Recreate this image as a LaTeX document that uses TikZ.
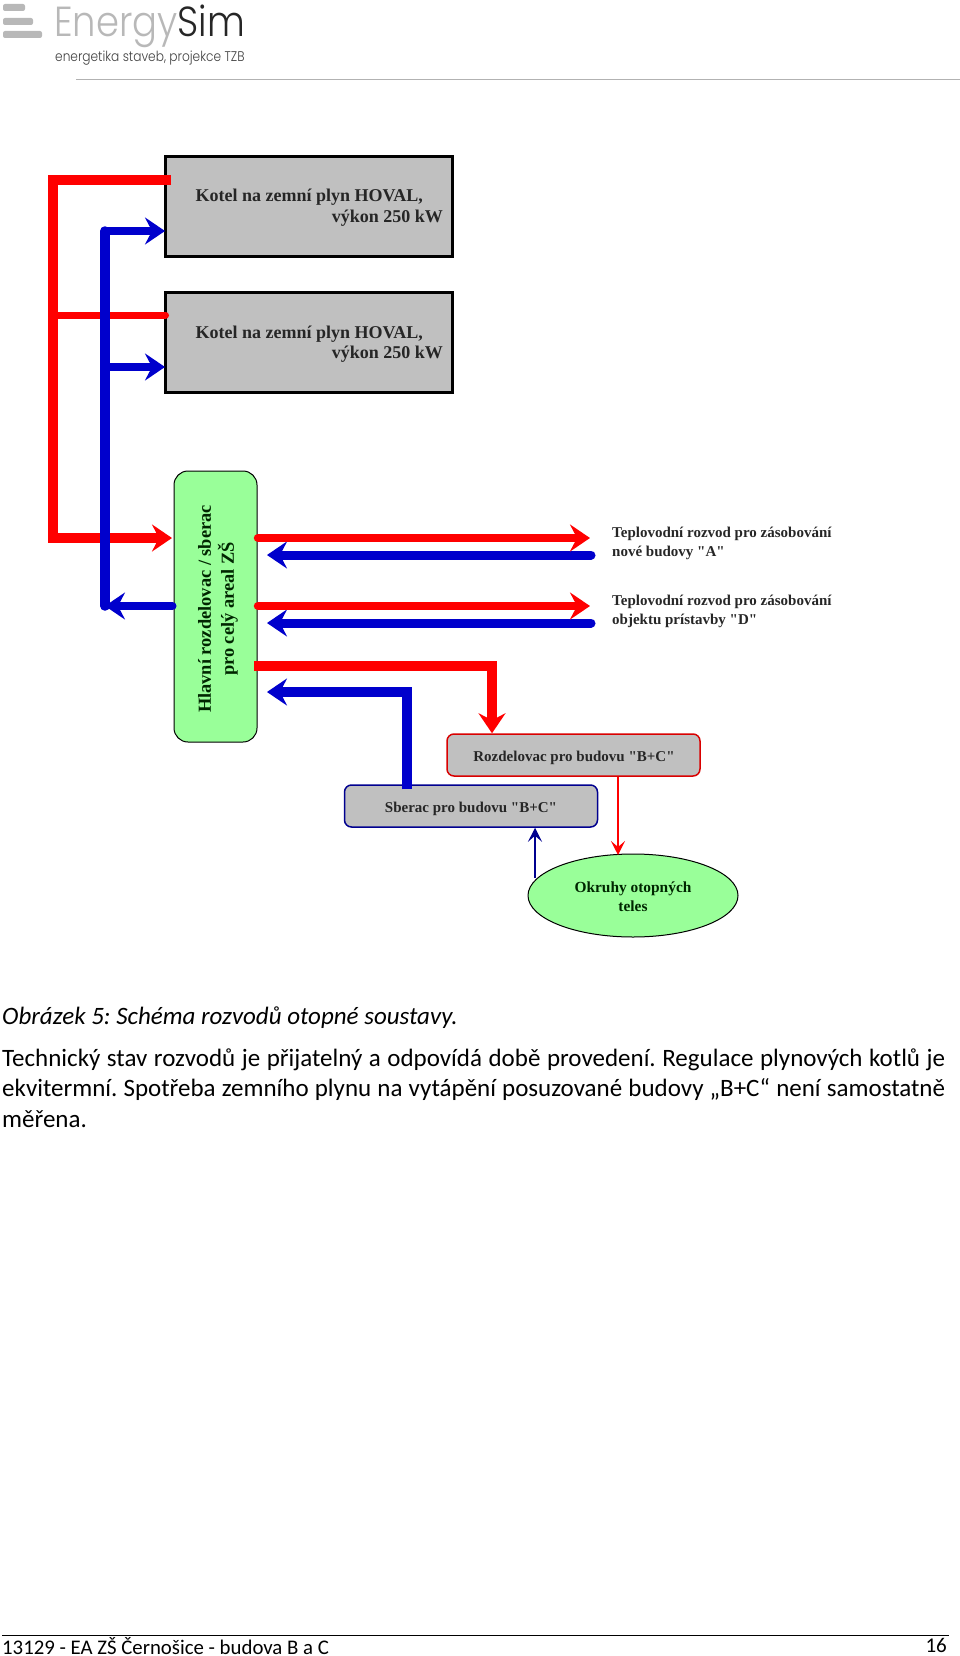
\documentclass[tikz,border=0pt]{standalone}
\usepackage{fontspec}
\setmainfont{Carlito}
\newfontfamily\boxfont{Liberation Serif}
\newfontfamily\logofont{Poppins Light}
\usetikzlibrary{arrows.meta, shapes.geometric, positioning}
\definecolor{pipeRed}{HTML}{FF0000}
\definecolor{pipeBlue}{HTML}{0000CC}
\definecolor{boxGrey}{HTML}{C0C0C0}
\definecolor{boxGreen}{HTML}{99FF99}
\definecolor{logoGrey}{HTML}{B8B8B8}
\tikzset{
    boilerBox/.style={draw=black, line width=2.5pt, fill=boxGrey, inner sep=0pt, minimum width=287pt, minimum height=100pt},
    mainBox/.style={draw=black, line width=1pt, fill=boxGreen, rounded corners=14pt, inner sep=0pt, minimum width=83pt, minimum height=271pt},
    subBox/.style={line width=1.5pt, fill=boxGrey, rounded corners=7pt, inner sep=0pt, minimum width=253pt, minimum height=42pt},
    loopEllipse/.style={ellipse, draw=black, line width=1pt, fill=boxGreen, inner sep=0pt, minimum width=210pt, minimum height=83pt},
    boxText/.style={inner sep=0pt, font=\boxfont\bfseries\fontsize{18}{21}\selectfont, text=black!85},
    subText/.style={inner sep=0pt, font=\boxfont\bfseries\fontsize{15}{17}\selectfont, text=black!85},
    feedText/.style={inner sep=0pt, anchor=west, align=left, font=\boxfont\bfseries\fontsize{15}{19}\selectfont, text=black!85},
    bodyText/.style={inner sep=0pt, anchor=base west, font=\fontsize{25}{30}\selectfont},
    headTip/.tip={Stealth[length=20pt, width=27pt, inset=7pt]},
    thinTip/.tip={Stealth[length=14pt, width=14pt, inset=6pt]},
    hotPipe/.style={draw=pipeRed, line width=8.5pt},
    coldPipe/.style={draw=pipeBlue, line width=9pt},
}
\newcommand{\drawBar}[3]{
    \fill[logoGrey, rounded corners=2pt] (3,#1) rectangle (#3,#2);
}
\begin{document}
\begin{tikzpicture}[x=1pt, y=-1pt]
    \frenchspacing
    \useasboundingbox (0,0) rectangle (960,1656);

    % logo
    \drawBar{4}{11}{25}
    \drawBar{18}{25}{33}
    \drawBar{31}{38}{42}
    \node[inner sep=0pt, anchor=base west, xscale=.88, font=\logofont\fontsize{42}{42}\selectfont] (logo) at (54,37) {\textcolor{logoGrey}{Energy}\textcolor{black!85}{Sim}};
    \node[inner sep=0pt, anchor=base west, xscale=.87, font=\logofont\fontsize{14}{14}\selectfont, text=black!75] (claim) at (55,62) {energetika staveb, projekce TZB};
    \coordinate (ruleA) at (76,79.5);
    \coordinate (ruleB) at (960,79.5);
    \draw[black!30, line width=1pt] (ruleA) -- (ruleB);

    % boxes
    \node[boilerBox] (boilerA) at (309,206.5) {};
    \node[boilerBox] (boilerB) at (309,342.5) {};
    \node[mainBox] (mainHub) at (215.5,606.5) {};
    \node[subBox, draw=pipeRed!85!black] (splitBC) at (573.5,755) {};
    \node[subBox, draw=pipeBlue!70!black] (collectBC) at (471,806) {};
    \node[loopEllipse] (loops) at (633,895.5) {};

    \node[boxText, anchor=east] (boilerAa) at (423,197) {Kotel na zemní plyn HOVAL,};
    \node[boxText, anchor=east] (boilerAb) at (443,218) {výkon 250 kW};
    \node[boxText, anchor=east] (boilerBa) at (423,334) {Kotel na zemní plyn HOVAL,};
    \node[boxText, anchor=east] (boilerBb) at (443,354) {výkon 250 kW};
    \node[boxText, rotate=90, align=center, font=\boxfont\bfseries\fontsize{18.4}{23}\selectfont, text=black!85!green] (mainText) at (218,609) {Hlavní rozdelovac / sberac\\pro celý areal ZŠ};
    \node[subText] (splitText) at (574,757.5) {Rozdelovac pro budovu "B+C"};
    \node[subText] (collectText) at (471,808.5) {Sberac pro budovu "B+C"};
    \node[boxText, align=center, font=\boxfont\bfseries\fontsize{15.4}{19}\selectfont, text=black!85!green] (loopText) at (633,897) {Okruhy otopných\\teles};
    \node[feedText] (feedA) at (612,543.5) {Teplovodní rozvod pro zásobování\\nové budovy "A"};
    \node[feedText] (feedD) at (612,611.5) {Teplovodní rozvod pro zásobování\\objektu prístavby "D"};

    % junction points
    \coordinate (hotA) at (171,180);
    \coordinate (hotCorner) at (53,180);
    \coordinate (hotBase) at (53,538);
    \coordinate (hotB) at (165.5,315);
    \coordinate (hotBranch) at (53,315);
    \coordinate (hotIn) at (172,538);
    \coordinate (coldTop) at (105,231);
    \coordinate (coldBase) at (105,606);
    \coordinate (coldA) at (165,231);
    \coordinate (coldBranch) at (105,367);
    \coordinate (coldB) at (165,367);
    \coordinate (coldOut) at (172.5,606);
    \coordinate (hotFeedA) at (258,538);
    \coordinate (hotEndA) at (590,538);
    \coordinate (coldFeedA) at (267,555);
    \coordinate (coldEndA) at (591,555);
    \coordinate (hotFeedD) at (258,606);
    \coordinate (hotEndD) at (590,606);
    \coordinate (coldFeedD) at (267,623);
    \coordinate (coldEndD) at (591,623);
    \coordinate (hotFeedBC) at (254,666);
    \coordinate (hotKnee) at (492,666);
    \coordinate (coldFeedBC) at (267,692);
    \coordinate (coldKnee) at (407,692);
    \coordinate (loopTop) at (618,855);
    \coordinate (loopLeft) at (535,878);

    % hot pipes
    \draw[hotPipe, line width=10.5pt, -{headTip}] (hotA) -- (hotCorner) -- (hotBase) -- (hotIn);
    \draw[hotPipe, line width=7pt, line cap=round] (hotBranch) -- (hotB);

    % cold pipes
    \draw[coldPipe, line width=9.5pt, line cap=round] (coldTop) -- (coldBase);
    \draw[coldPipe, line width=8pt, line cap=round, -{headTip}] (coldTop) -- (coldA);
    \draw[coldPipe, line width=8pt, -{headTip}] (coldBranch) -- (coldB);
    \draw[coldPipe, line width=8pt, line cap=round, -{headTip}] (coldOut) -- (coldBase);

    % feeds
    \draw[coldPipe, line cap=round, -{headTip}] (coldEndA) -- (coldFeedA);
    \draw[coldPipe, line cap=round, -{headTip}] (coldEndD) -- (coldFeedD);
    \draw[hotPipe, line cap=round, -{headTip}] (hotFeedA) -- (hotEndA);
    \draw[hotPipe, line cap=round, -{headTip}] (hotFeedD) -- (hotEndD);
    \draw[hotPipe, line width=10.7pt, -{headTip}] (hotFeedBC) -- (hotKnee) -- (splitBC.north -| hotKnee);
    \draw[coldPipe, line width=10pt, shorten <=-5pt, -{headTip}] (collectBC.north -| coldKnee) -- (coldKnee) -- (coldFeedBC);

    % thin connectors
    \draw[pipeRed, line width=1.5pt, -{thinTip}] (splitBC.south -| loopTop) -- (loopTop);
    \draw[pipeBlue!70!black, line width=1.5pt, -{thinTip}] (loopLeft) -- (collectBC.south -| loopLeft);

    % text below
    \node[bodyText, font=\itshape\fontsize{25}{30}\selectfont] (caption) at (2,1024) {Obrázek 5: Schéma rozvodů otopné soustavy.};
    \node[bodyText] (lineA) at (2,1066) {\makebox[943pt][s]{Technický stav rozvodů je přijatelný a odpovídá době provedení. Regulace plynových kotlů je}};
    \node[bodyText] (lineB) at (2,1096) {\makebox[943pt][s]{ekvitermní. Spotřeba zemního plynu na vytápění posuzované budovy „B+C“ není samostatně}};
    \node[bodyText] (lineC) at (2,1127) {měřena.};

    % footer
    \coordinate (footA) at (2,1635);
    \coordinate (footB) at (949,1635);
    \draw[black, line width=1pt] (footA) -- (footB);
    \node[bodyText, font=\fontsize{20.8}{25}\selectfont] (footL) at (2,1654) {13129 - EA ZŠ Černošice - budova B a C};
    \node[bodyText, anchor=base east, font=\fontsize{21}{25}\selectfont] (footR) at (947,1652) {16};
\end{tikzpicture}
\end{document}
